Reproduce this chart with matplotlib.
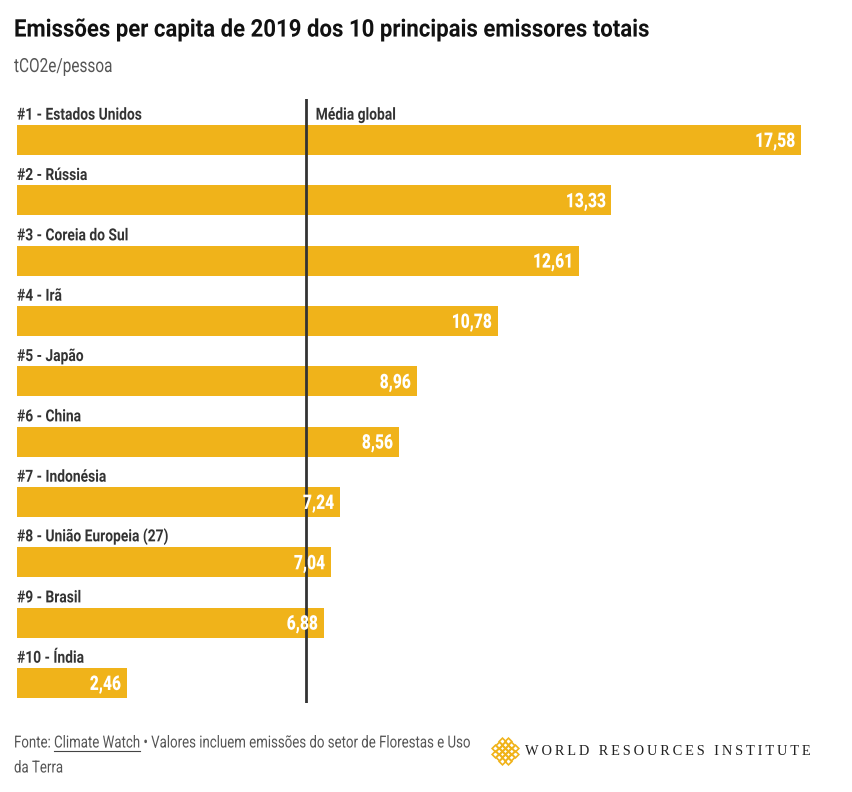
import matplotlib
matplotlib.use("Agg")
import matplotlib.pyplot as plt
from matplotlib.lines import Line2D
from matplotlib.patheffects import AbstractPathEffect
from matplotlib.transforms import Affine2D

plt.rcParams['font.family'] = ['Roboto', 'DejaVu Sans']

countries = ["#1 - Estados Unidos", "#2 - Rússia", "#3 - Coreia do Sul", "#4 - Irã", "#5 - Japão",
             "#6 - China", "#7 - Indonésia", "#8 - União Europeia (27)", "#9 - Brasil", "#10 - Índia"]
values = [17.58, 13.33, 12.61, 10.78, 8.96, 8.56, 7.24, 7.04, 6.88, 2.46]
global_avg = 6.48


# no condensed font installed, so squeeze the glyphs sideways when drawing
class Narrow(AbstractPathEffect):
    def __init__(self, sx, right=False):
        super().__init__()
        self.sx = sx
        self.right = right

    def draw_path(self, renderer, gc, tpath, affine, rgbFace=None):
        x0 = tpath.get_extents().x1 if self.right else 0
        squeeze = Affine2D().translate(-x0, 0).scale(self.sx, 1).translate(x0, 0)
        renderer.draw_path(gc, tpath, squeeze + affine, rgbFace)


W, H = 853, 792
fig = plt.figure(figsize=(W / 100, H / 100), dpi=100, facecolor="white")
ax = fig.add_axes([17 / W, 1 - 703 / H, 784 / W, 604 / H])

ypos = list(range(len(values)))
ax.barh(ypos, values, height=0.5, color="#f0b31a")
ax.set_xlim(0, 17.58)
ax.set_ylim(9.33, -0.68)
ax.axis("off")
ax.axvline(global_avg, color="#333333", lw=2, zorder=3)

label_fx = [Narrow(0.83)]
for y, name, v in zip(ypos, countries, values):
    ax.annotate(name, (0, y), xytext=(0, 12.5), textcoords="offset points", ha="left", va="bottom",
                fontsize=12, fontweight="bold", color="#333333", annotation_clip=False,
                path_effects=label_fx)
    ax.annotate(f"{v:.2f}".replace(".", ","), (v, y), xytext=(-4, -1), textcoords="offset points",
                ha="right", va="center", fontsize=14.5, fontweight="heavy", color="white", zorder=4,
                path_effects=[Narrow(0.77, right=True)])
ax.annotate("Média global", (global_avg, 0), xytext=(7, 12.5), textcoords="offset points", ha="left",
            va="bottom", fontsize=12, fontweight="bold", color="#333333", path_effects=label_fx)

fig.text(14 / W, 1 - 30 / H, "Emissões per capita de 2019 dos 10 principais emissores totais",
         fontsize=17.5, fontweight="bold", color="#111111", va="center", path_effects=[Narrow(0.912)])
fig.text(14 / W, 1 - 67 / H, "tCO2e/pessoa", fontsize=14, color="#555555",
         va="center", path_effects=[Narrow(0.79)])

# footer, one text with the underline measured from its substrings
sx = 0.795
foot = dict(fontsize=12, color="#555555", va="center", path_effects=[Narrow(sx)])
r = fig.canvas.get_renderer()
line1 = "Fonte: Climate Watch • Valores incluem emissões do setor de Florestas e Uso"
fig.text(14 / W, 1 - 743 / H, line1, **foot)
fig.text(14 / W, 1 - 768 / H, "da Terra", **foot)

probe = fig.text(0, 0, "Fonte: ", **foot)
x0 = 14 + probe.get_window_extent(r).width * sx
probe.set_text("Fonte: Climate Watch")
x1 = 14 + probe.get_window_extent(r).width * sx
probe.remove()
fig.add_artist(Line2D([x0 / W, x1 / W], [1 - 751 / H] * 2, color="#444444", lw=0.8))

# logo
cx, cy, s = 505, 751, 3.2
lx = fig.add_axes([(cx - 16) / W, 1 - (cy + 16) / H, 32 / W, 32 / H])
lx.set_xlim(-16, 16)
lx.set_ylim(-16, 16)
lx.axis("off")
for i in range(-2, 3):
    for j in range(-2, 3):
        if abs(i) + abs(j) <= 3:
            lx.plot([(i + j) * s], [(i - j) * s], marker="D", ms=3.4, mfc="none", mec="#f0b31a", mew=1.2)

fig.text(525 / W, 1 - 751.5 / H, "\u2009".join("WORLD RESOURCES INSTITUTE"),
         family=["Liberation Serif", "DejaVu Serif"], fontsize=10.4, color="#222222", va="center")

fig.savefig("out.png", dpi=100)
